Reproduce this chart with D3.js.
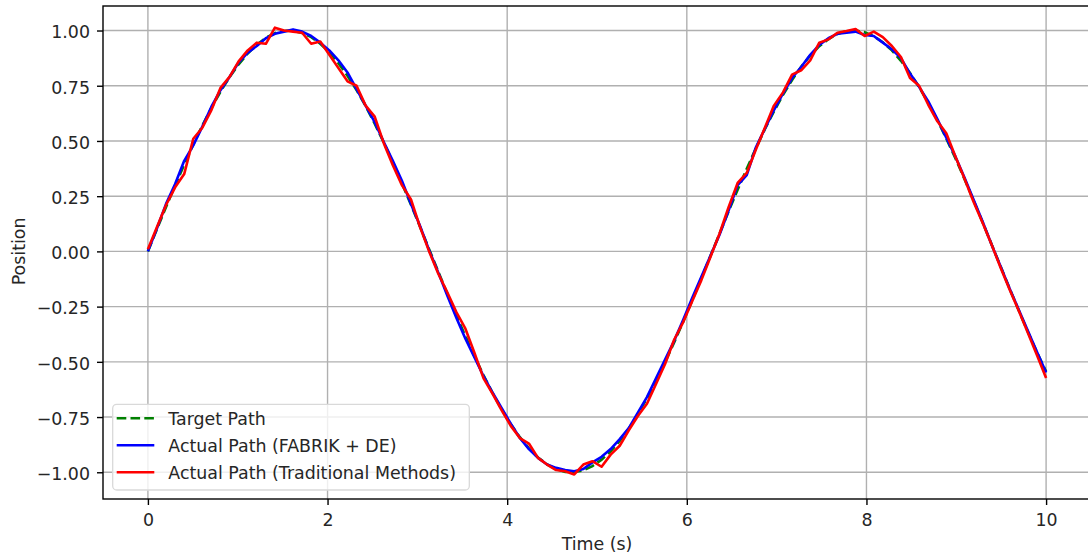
<!DOCTYPE html>
<html>
<head>
<meta charset="utf-8">
<script src="https://cdn.jsdelivr.net/npm/d3@7"></script>
<style>
  body { margin: 0; background: #fff; }
  text { font-family: "DejaVu Sans", sans-serif; }
</style>
</head>
<body>
<div id="chart"></div>
<script>
var timeValues = [
  0.000, 0.101, 0.202, 0.303, 0.404, 0.505, 0.606, 0.707, 0.808, 0.909,
  1.010, 1.111, 1.212, 1.313, 1.414, 1.515, 1.616, 1.717, 1.818, 1.919,
  2.020, 2.121, 2.222, 2.323, 2.424, 2.525, 2.626, 2.727, 2.828, 2.929,
  3.030, 3.131, 3.232, 3.333, 3.434, 3.535, 3.636, 3.737, 3.838, 3.939,
  4.040, 4.141, 4.242, 4.343, 4.444, 4.545, 4.646, 4.747, 4.848, 4.949,
  5.051, 5.152, 5.253, 5.354, 5.455, 5.556, 5.657, 5.758, 5.859, 5.960,
  6.061, 6.162, 6.263, 6.364, 6.465, 6.566, 6.667, 6.768, 6.869, 6.970,
  7.071, 7.172, 7.273, 7.374, 7.475, 7.576, 7.677, 7.778, 7.879, 7.980,
  8.081, 8.182, 8.283, 8.384, 8.485, 8.586, 8.687, 8.788, 8.889, 8.990,
  9.091, 9.192, 9.293, 9.394, 9.495, 9.596, 9.697, 9.798, 9.899, 10.000
];

var targetPath = [
  0.000, 0.101, 0.201, 0.298, 0.393, 0.484, 0.570, 0.650, 0.723, 0.789,
  0.847, 0.896, 0.936, 0.967, 0.988, 0.998, 0.999, 0.989, 0.970, 0.940,
  0.901, 0.852, 0.795, 0.730, 0.658, 0.578, 0.493, 0.403, 0.308, 0.211,
  0.111, 0.010, -0.091, -0.191, -0.289, -0.384, -0.475, -0.561, -0.642, -0.716,
  -0.783, -0.841, -0.892, -0.933, -0.964, -0.986, -0.998, -0.999, -0.991, -0.972,
  -0.943, -0.905, -0.858, -0.802, -0.737, -0.665, -0.587, -0.502, -0.412, -0.318,
  -0.221, -0.121, -0.021, 0.080, 0.181, 0.279, 0.374, 0.466, 0.553, 0.634,
  0.709, 0.776, 0.836, 0.887, 0.929, 0.961, 0.984, 0.997, 1.000, 0.992,
  0.974, 0.947, 0.910, 0.863, 0.808, 0.744, 0.673, 0.595, 0.511, 0.422,
  0.328, 0.231, 0.132, 0.031, -0.070, -0.170, -0.269, -0.365, -0.457, -0.544
];

var fabrikPath = [
  0.000, 0.105, 0.215, 0.305, 0.410, 0.480, 0.565, 0.655, 0.730, 0.790,
  0.855, 0.900, 0.930, 0.965, 0.985, 0.995, 1.005, 0.995, 0.975, 0.945,
  0.910, 0.865, 0.810, 0.735, 0.660, 0.585, 0.495, 0.410, 0.320, 0.215,
  0.115, 0.005, -0.095, -0.200, -0.300, -0.395, -0.480, -0.565, -0.640, -0.710,
  -0.780, -0.845, -0.895, -0.935, -0.965, -0.980, -0.990, -0.995, -0.985, -0.955,
  -0.930, -0.895, -0.850, -0.800, -0.730, -0.660, -0.575, -0.490, -0.405, -0.310,
  -0.210, -0.115, -0.020, 0.075, 0.185, 0.300, 0.345, 0.470, 0.555, 0.640,
  0.715, 0.785, 0.835, 0.890, 0.935, 0.965, 0.985, 0.990, 0.995, 0.980,
  0.975, 0.945, 0.915, 0.875, 0.805, 0.745, 0.680, 0.600, 0.515, 0.430,
  0.335, 0.235, 0.135, 0.030, -0.070, -0.170, -0.265, -0.360, -0.455, -0.548
];

var traditionalPath = [
  0.010, 0.110, 0.210, 0.290, 0.350, 0.510, 0.560, 0.640, 0.740, 0.790,
  0.860, 0.910, 0.945, 0.940, 1.013, 1.000, 0.995, 0.990, 0.940, 0.950,
  0.890, 0.830, 0.770, 0.750, 0.660, 0.610, 0.490, 0.390, 0.300, 0.235,
  0.110, 0.000, -0.100, -0.185, -0.275, -0.350, -0.460, -0.575, -0.645, -0.720,
  -0.790, -0.845, -0.870, -0.935, -0.965, -0.990, -0.995, -1.010, -0.965, -0.950,
  -0.975, -0.920, -0.880, -0.810, -0.745, -0.690, -0.600, -0.510, -0.400, -0.320,
  -0.225, -0.130, -0.025, 0.080, 0.200, 0.310, 0.355, 0.460, 0.560, 0.660,
  0.720, 0.800, 0.820, 0.865, 0.945, 0.960, 0.990, 0.998, 1.007, 0.975,
  0.995, 0.970, 0.930, 0.880, 0.785, 0.750, 0.665, 0.590, 0.535, 0.430,
  0.330, 0.225, 0.130, 0.030, -0.075, -0.175, -0.270, -0.370, -0.470, -0.573
];

var xTicks = [0, 2, 4, 6, 8, 10];
var yTicks = [-1.00, -0.75, -0.50, -0.25, 0.00, 0.25, 0.50, 0.75, 1.00];
var seriesNames = ["Target Path", "Actual Path (FABRIK + DE)", "Actual Path (Traditional Methods)"];

var svgWidth = 1088;
var svgHeight = 556;

var margin = {
  top: 6,
  right: -3,
  bottom: 57,
  left: 103
};

var width = svgWidth - margin.left - margin.right;
var height = svgHeight - margin.top - margin.bottom;
var fontSize = "17.4px";
var lineW = 2.6;
var dash = "9.6,4.2";

var svg = d3.select("#chart")
  .append("svg")
  .attr("width", svgWidth)
  .attr("height", svgHeight);

svg.append("defs").append("clipPath")
  .attr("id", "plotclip")
  .append("rect")
  .attr("width", width)
  .attr("height", height);

var chartGroup = svg.append("g")
  .attr("transform", `translate(${margin.left}, ${margin.top})`);

var xScale = d3.scaleLinear()
  .domain([-0.5, 10.5])
  .range([0, width]);

var yScale = d3.scaleLinear()
  .domain([-1.121, 1.111])
  .range([height, 0]);

var fmt = function (d) { return d3.format(".2f")(d).replace("-", "\u2212"); };

// grid
chartGroup.append("g")
  .selectAll("line")
  .data(xTicks)
  .enter()
  .append("line")
  .attr("x1", d => xScale(d))
  .attr("x2", d => xScale(d))
  .attr("y1", 0)
  .attr("y2", height)
  .attr("stroke", "#b0b0b0")
  .attr("stroke-width", 1.4);

chartGroup.append("g")
  .selectAll("line")
  .data(yTicks)
  .enter()
  .append("line")
  .attr("x1", 0)
  .attr("x2", width)
  .attr("y1", d => yScale(d))
  .attr("y2", d => yScale(d))
  .attr("stroke", "#b0b0b0")
  .attr("stroke-width", 1.4);

var bottomAxis = d3.axisBottom(xScale)
  .tickValues(xTicks)
  .tickSize(6)
  .tickPadding(8.3)
  .tickFormat(d3.format("d"));

var leftAxis = d3.axisLeft(yScale)
  .tickValues(yTicks)
  .tickSize(6)
  .tickPadding(7)
  .tickFormat(fmt);

var xAxisG = chartGroup.append("g")
  .attr("transform", `translate(0, ${height})`)
  .call(bottomAxis);

var yAxisG = chartGroup.append("g")
  .call(leftAxis);

[xAxisG, yAxisG].forEach(function (g) {
  g.select(".domain").remove();
  g.selectAll(".tick line").attr("stroke", "#000").attr("stroke-width", 1.4);
  g.selectAll(".tick text")
    .attr("fill", "#262626")
    .style("font-family", "'DejaVu Sans', sans-serif")
    .style("font-size", fontSize);
});
yAxisG.selectAll(".tick text").attr("dy", "0.42em");

var line = d3.line()
  .x((d, i) => xScale(timeValues[i]))
  .y(d => yScale(d));

var plot = chartGroup.append("g")
  .attr("clip-path", "url(#plotclip)");

plot.append("path")
  .datum(targetPath)
  .attr("fill", "none")
  .attr("stroke", "green")
  .attr("stroke-width", lineW)
  .attr("stroke-dasharray", dash)
  .attr("d", line);

plot.append("path")
  .datum(fabrikPath)
  .attr("fill", "none")
  .attr("stroke", "blue")
  .attr("stroke-width", lineW)
  .attr("stroke-linejoin", "round")
  .attr("d", line);

plot.append("path")
  .datum(traditionalPath)
  .attr("fill", "none")
  .attr("stroke", "red")
  .attr("stroke-width", lineW)
  .attr("stroke-linejoin", "round")
  .attr("d", line);

// spines
chartGroup.append("rect")
  .attr("width", width)
  .attr("height", height)
  .attr("fill", "none")
  .attr("stroke", "#000")
  .attr("stroke-width", 1.4);

// axis labels
chartGroup.append("text")
  .attr("x", xScale(5))
  .attr("y", height + 51)
  .attr("text-anchor", "middle")
  .attr("font-size", fontSize)
  .attr("fill", "#262626")
  .text("Time (s)");

chartGroup.append("text")
  .attr("transform", "rotate(-90)")
  .attr("x", 0 - yScale(0))
  .attr("y", -78.5)
  .attr("text-anchor", "middle")
  .attr("font-size", fontSize)
  .attr("fill", "#262626")
  .text("Position");

// legend
var legendX = 112.7 - margin.left;
var legendY = 404.3 - margin.top;
var legend = chartGroup.append("g")
  .attr("transform", `translate(${legendX}, ${legendY})`);

legend.append("rect")
  .attr("width", 356.6)
  .attr("height", 85.7)
  .attr("rx", 4)
  .attr("fill", "#fff")
  .attr("fill-opacity", 0.8)
  .attr("stroke", "#d9d9d9")
  .attr("stroke-width", 1.3);

var legendColors = ["green", "blue", "red"];
var legendDash = [dash, null, null];

var items = legend.selectAll(".item")
  .data(seriesNames)
  .enter()
  .append("g")
  .attr("class", "item")
  .attr("transform", (d, i) => `translate(0, ${14 + i * 27})`);

items.append("line")
  .attr("x1", 4)
  .attr("x2", 41.6)
  .attr("y1", 0)
  .attr("y2", 0)
  .attr("stroke", (d, i) => legendColors[i])
  .attr("stroke-width", lineW)
  .attr("stroke-dasharray", (d, i) => legendDash[i]);

items.append("text")
  .attr("x", 55.6)
  .attr("y", 6.3)
  .attr("font-size", fontSize)
  .attr("fill", "#262626")
  .text(d => d);
</script>
</body>
</html>
